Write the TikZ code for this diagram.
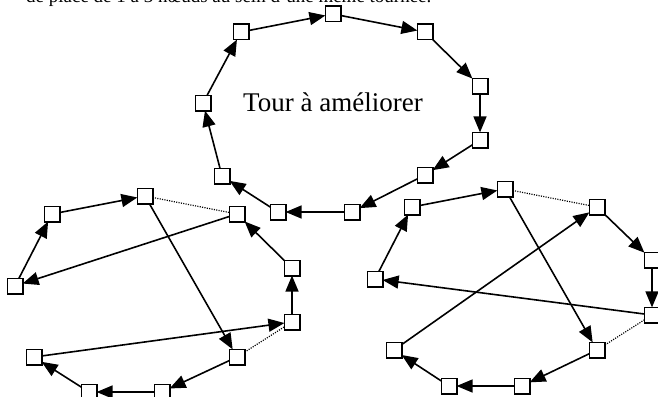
\documentclass[tikz,border=0pt]{standalone}
\usepackage{fontspec}
\setmainfont{Liberation Serif}
\usetikzlibrary{arrows.meta}
\begin{document}
\begin{tikzpicture}[x=1pt,y=-1pt,
  city/.style={draw,line width=1.8pt,fill=white,minimum size=15.2pt,inner sep=0pt,outer sep=0pt},
  edge/.style={line width=1.6pt,-{Triangle[length=16pt,width=13pt]}},
  removed/.style={line width=1.2pt,dash pattern=on 1.1pt off 1.3pt}]
\useasboundingbox (0,0) rectangle (658,396);
\clip (0,0) rectangle (658,396);

% running text of the page, cut by the frame
\node[anchor=base west,inner sep=0pt,font=\fontsize{19}{22}\selectfont] (caption) at (26,3)
  {de place de 1 à 3 nœuds au sein d'une même tournée.};

% tour to be improved
\node[anchor=base west,inner sep=0pt,font=\fontsize{27}{32}\selectfont] (title) at (243,111) {Tour à améliorer};
\node[city] (a0) at (241,32) {};
\node[city] (a1) at (333,14) {};
\node[city] (a2) at (425,32) {};
\node[city] (a3) at (480,86) {};
\node[city] (a4) at (480,140) {};
\node[city] (a5) at (425,175) {};
\node[city] (a6) at (352,212) {};
\node[city] (a7) at (278,212) {};
\node[city] (a8) at (222,176) {};
\node[city] (a9) at (203,103) {};
\foreach \s/\t in {a0/a1,a1/a2,a2/a3,a3/a4,a4/a5,a5/a6,a6/a7,a7/a8,a8/a9,a9/a0}
  \draw[edge] (\s) -- (\t);

% left variant
\node[city] (l0) at (15,286) {};
\node[city] (l1) at (52,214) {};
\node[city] (l2) at (145,196) {};
\node[city] (l3) at (237,214) {};
\node[city] (l4) at (292,268) {};
\node[city] (l5) at (292,322) {};
\node[city] (l6) at (237,357) {};
\node[city] (l7) at (162,392) {};
\node[city] (l8) at (89,392) {};
\node[city] (l9) at (34,357) {};
\draw[removed] (l2) -- (l3);
\draw[removed] (l6) -- (l5);
\foreach \s/\t in {l0/l1,l1/l2,l2/l6,l6/l7,l7/l8,l8/l9,l9/l5,l5/l4,l4/l3,l3/l0}
  \draw[edge] (\s) -- (\t);

% right variant
\node[city] (r0) at (375,279) {};
\node[city] (r1) at (412,207) {};
\node[city] (r2) at (505,189) {};
\node[city] (r3) at (597,207) {};
\node[city] (r4) at (652,260) {};
\node[city] (r5) at (652,315) {};
\node[city] (r6) at (597,350) {};
\node[city] (r7) at (522,386) {};
\node[city] (r8) at (449,386) {};
\node[city] (r9) at (394,350) {};
\draw[removed] (r2) -- (r3);
\draw[removed] (r5) -- (r6);
\foreach \s/\t in {r0/r1,r1/r2,r2/r6,r6/r7,r7/r8,r8/r9,r9/r3,r3/r4,r4/r5,r5/r0}
  \draw[edge] (\s) -- (\t);
\end{tikzpicture}
\end{document}
